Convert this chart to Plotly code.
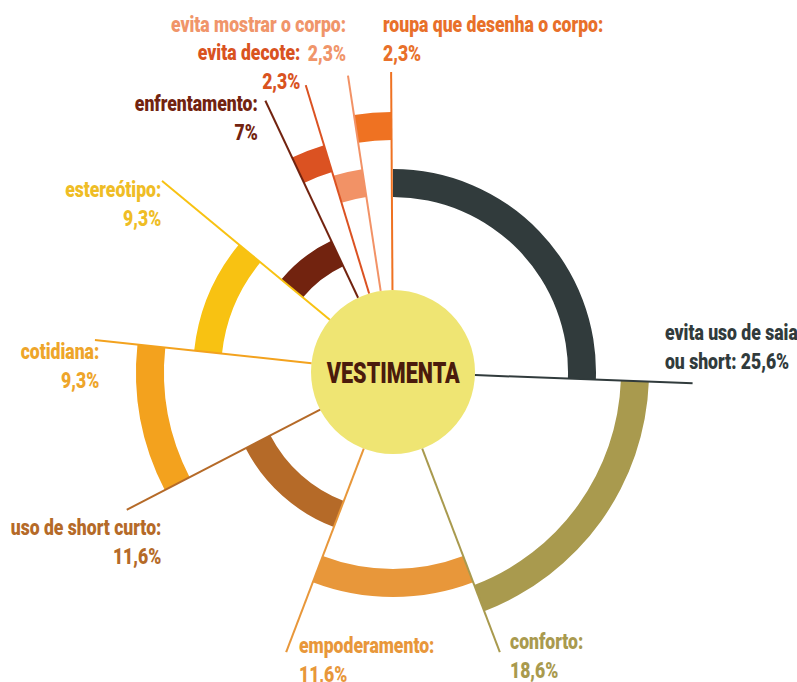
import plotly.graph_objects as go

# ---- data ----
categories = [
    "evita uso de saia<br>ou short", "conforto", "empoderamento", "uso de short curto",
    "cotidiana", "estereótipo", "enfrentamento", "evita decote",
    "evita mostrar o corpo", "roupa que desenha o corpo",
]
percentages = [25.6, 18.6, 11.6, 11.6, 9.3, 9.3, 7.0, 2.3, 2.3, 2.3]
center_title = "VESTIMENTA"

# ---- style ----
colors = ["#313b3c", "#a99a4e", "#e8973a", "#b56a28", "#f3a21e",
          "#f8c212", "#72230f", "#db5222", "#f29266", "#ef7222"]
label_colors = ["#313b3c", "#a99a4e", "#e8973a", "#b56a28", "#eea52a",
                "#efbd25", "#72230f", "#d9531f", "#f0956a", "#e8702a"]
ring_outer = [203, 256, 225, 166, 257, 200, 145, 237, 205, 260]
band = 28
hole_r = 82
line_end = 300

W, H = 797, 682
cx, cy, R = 393, 372, 300  # pixel centre and radius of polar area

# label anchor placement (pixels): x, y-centre, anchor
label_pos = [
    (663, 347, "left"), (508, 656, "left"), (297, 660, "left"), (163, 542, "right"),
    (101, 366, "right"), (163, 204, "right"), (260, 118, "right"), (302, 67, "right"),
    (348, 39, "right"), (381, 39, "left"),
]

FONT = "Roboto, Noto Sans, sans-serif"

def fmt(p):
    s = f"{p:.1f}".rstrip("0").rstrip(".")
    return s.replace(".", ",") + "%"

# angles
mids, ends, widths = [], [], []
acc = 0.0
for p in percentages:
    w = p * 3.6
    mids.append(acc + w / 2)
    widths.append(w)
    acc += w
    ends.append(acc)

fig = go.Figure()

# leader lines at the clockwise end of each segment
for i, p in enumerate(percentages):
    fig.add_trace(go.Scatterpolar(
        r=[hole_r, line_end], theta=[ends[i], ends[i]], mode="lines",
        line=dict(color=colors[i], width=2), hoverinfo="skip", showlegend=False))

# arc bands
fig.add_trace(go.Barpolar(
    r=[band] * len(percentages),
    base=[ro - band for ro in ring_outer],
    theta=mids, width=widths,
    marker=dict(color=colors, line=dict(width=0)),
    hovertext=[c.replace("<br>", " ") + ": " + fmt(p) for c, p in zip(categories, percentages)],
    hoverinfo="text", showlegend=False))

# centre disc
fig.add_trace(go.Barpolar(
    r=[hole_r], base=[0], theta=[0], width=[360],
    marker=dict(color="#efe573", line=dict(width=0)),
    hoverinfo="skip", showlegend=False))

annotations = [dict(
    x=cx / W, y=(H - cy) / H, xref="paper", yref="paper",
    text=center_title, showarrow=False,
    font=dict(family=FONT, size=30, color="#4a1b0c", weight=900),
    xanchor="center", yanchor="middle")]

for i, (c, p) in enumerate(zip(categories, percentages)):
    x, yc, anc = label_pos[i]
    if i == 0:
        txt = f"{c}: {fmt(p)}"
    else:
        txt = f"{c}:<br>{fmt(p)}"
    annotations.append(dict(
        x=x / W, y=(H - yc) / H, xref="paper", yref="paper",
        text=txt, showarrow=False, align=anc,
        font=dict(family=FONT, size=22, color=label_colors[i], weight=900),
        xanchor=anc, yanchor="middle"))

fig.update_layout(
    width=W, height=H,
    margin=dict(l=0, r=0, t=0, b=0),
    paper_bgcolor="white",
    polar=dict(
        domain=dict(x=[(cx - R) / W, (cx + R) / W], y=[(H - cy - R) / H, (H - cy + R) / H]),
        bgcolor="white",
        radialaxis=dict(visible=False, range=[0, line_end]),
        angularaxis=dict(visible=False, rotation=90, direction="clockwise"),
        bargap=0,
    ),
    annotations=annotations,
    font=dict(family=FONT),
)

# condensed look: squeeze annotation text horizontally around its anchor
post = """
document.body.style.margin='0px';
var gd = document.getElementById('{plot_id}');
gd.querySelectorAll('g.annotation').forEach(function(g){
  var idx = +g.getAttribute('data-index');
  var a = gd.layout.annotations[idx];
  var t = g.querySelector('text.annotation-text');
  if(!t || !a) return;
  var o = a.xanchor === 'left' ? 'left' : (a.xanchor === 'right' ? 'right' : 'center');
  t.style.transformBox = 'fill-box';
  t.style.transformOrigin = o + ' center';
  t.style.transform = 'scaleX(' + (idx === 0 ? 0.72 : 0.8) + ')';
});
"""
fig.write_html("out.html", post_script=post, config={"displayModeBar": False})
